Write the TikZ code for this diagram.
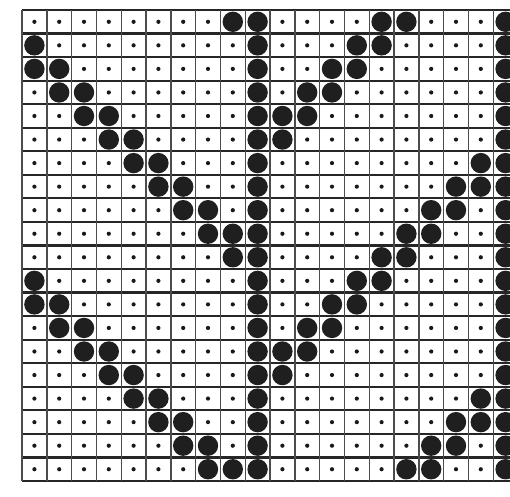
\documentclass[tikz,border=0pt]{standalone}
\begin{document}
\begin{tikzpicture}[x=0.5pt,y=-0.5pt,
  hline/.style={line width=1.1pt,draw=black!85},
  vline/.style={line width=0.7pt,draw=black!70},
  smalldot/.style={fill=black!90},
  bigdot/.style={fill=black!88}]
\useasboundingbox (0,0) rectangle (510,497);
\clip (0,0) rectangle (510,497);
\fill[white] (0,0) rectangle (510,497);
% grid lines
\foreach \k in {0,...,20}
  \draw[hline] (22,{10+23.55*\k}) -- (510,{10+23.55*\k});
\foreach \k in {0,...,19}
  \draw[vline] ({22+24.8*\k},10) -- ({22+24.8*\k},481);
% small dots in every cell
\foreach \r in {0,...,19}
  \foreach \c in {0,...,19}
    \fill[smalldot] ({34.4+24.8*\c},{21.8+23.55*\r}) circle[radius=1.05pt];
% big dots (pattern repeats every 10 rows)
\foreach \rr/\cols in {0/{8,9,14,15,19},1/{0,9,13,14,19},2/{0,1,9,12,13,19},
    3/{1,2,9,11,12,19},4/{2,3,9,10,11,19},5/{3,4,9,10,19},6/{4,5,9,18,19},
    7/{5,6,9,17,18,19},8/{6,7,9,16,17,19},9/{7,8,9,15,16,19}}
  \foreach \h in {0,10}
    \foreach \c in \cols
      \fill[bigdot] ({34.4+24.8*\c},{21.8+23.55*(\rr+\h)}) circle[radius=5.1pt];
\end{tikzpicture}
\end{document}
